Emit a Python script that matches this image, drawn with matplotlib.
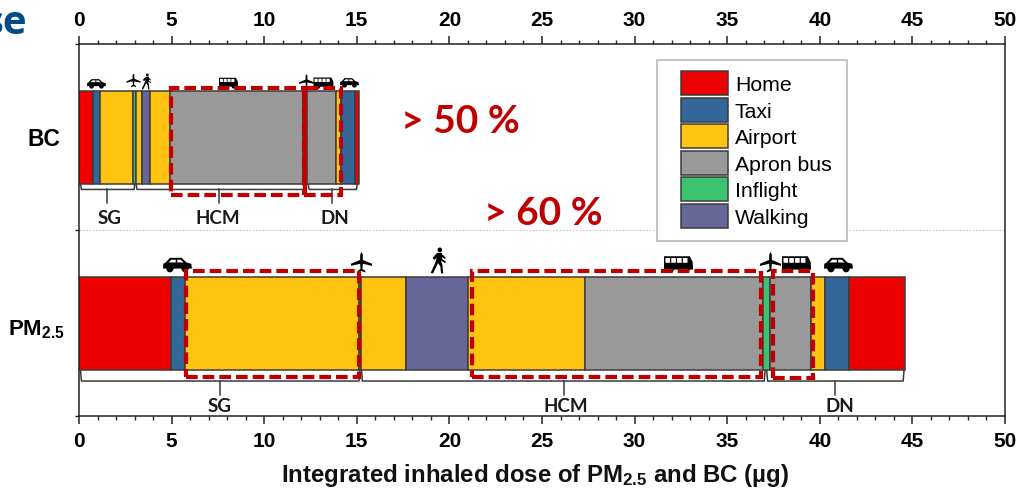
import numpy as np
import matplotlib
matplotlib.use("Agg")
import matplotlib.pyplot as plt
from matplotlib.patches import Rectangle, Patch
from matplotlib.path import Path

W, H = 1019, 489
COL = {"Home": "#EE0000", "Taxi": "#336699", "Airport": "#FFC312",
       "Apron bus": "#999999", "Inflight": "#3CC36F", "Walking": "#666699"}
legend_names = ["Home", "Taxi", "Airport", "Apron bus", "Inflight", "Walking"]

# data
bc_cats = ["Home", "Taxi", "Airport", "Inflight", "Airport", "Walking", "Airport",
           "Apron bus", "Inflight", "Apron bus", "Airport", "Taxi", "Home"]
bc_edges = [0, 0.77, 1.15, 2.91, 3.09, 3.40, 3.81, 4.89, 12.12, 12.30, 13.88, 14.14, 14.89, 15.14]
pm_cats = ["Home", "Taxi", "Airport", "Inflight", "Airport", "Walking", "Airport",
           "Apron bus", "Inflight", "Apron bus", "Airport", "Taxi", "Home"]
pm_edges = [0, 4.95, 5.70, 15.10, 15.23, 17.66, 21.03, 27.34, 36.95, 37.29, 39.52, 40.30, 41.60, 44.58]

bc_brackets = [("SG", 0.08, 3.02, 1.52), ("HCM", 3.08, 12.27, 7.55), ("DN", 12.37, 15.03, 13.67)]
pm_brackets = [("SG", 0.08, 15.17, 7.6), ("HCM", 15.25, 37.05, 26.2), ("DN", 37.13, 44.55, 40.8)]
bc_label_x = [1.67, 7.5, 13.8]
pm_label_x = [7.6, 26.3, 41.1]

boxes = [(4.95, 12.2, 1.19, 1.763), (12.15, 14.14, 1.19, 1.763),
         (5.78, 15.1, 0.21, 0.78), (21.22, 36.81, 0.21, 0.78), (37.46, 39.62, 0.205, 0.78)]

icons = [("car", 0.92, 1.79, 19), ("plane", 2.92, 1.807, 14), ("walker", 3.62, 1.80, 16),
         ("bus", 8.05, 1.796, 19), ("plane", 12.26, 1.80, 15), ("bus", 13.17, 1.796, 20),
         ("car", 14.58, 1.796, 19),
         ("car", 5.29, 0.817, 29), ("plane", 15.23, 0.83, 21), ("walker", 19.39, 0.84, 26),
         ("bus", 32.34, 0.823, 29), ("plane", 37.3, 0.83, 21), ("bus", 38.72, 0.823, 29),
         ("car", 40.98, 0.817, 29)]

LAT = "Liberation Sans"
plt.rcParams["font.family"] = LAT
plt.rcParams["mathtext.fontset"] = "custom"
plt.rcParams["mathtext.rm"] = "Liberation Sans:bold"
plt.rcParams["mathtext.bf"] = "Liberation Sans:bold"
plt.rcParams["mathtext.default"] = "rm"

fig = plt.figure(figsize=(W / 100, H / 100), dpi=100)
ax = fig.add_axes([79 / W, 1 - 417 / H, (1005 - 79) / W, (417 - 45) / H])
ax.set_xlim(0, 50)
ax.set_ylim(0, 2)

ax.axhline(1, color="#c8c8c8", lw=0.8, ls=(0, (1.5, 1.5)), zorder=0)

def draw_bar(y, cats, edges):
    e = np.array(edges)
    ax.barh([y] * len(cats), e[1:] - e[:-1], left=e[:-1], height=0.5,
            color=[COL[c] for c in cats], edgecolor="#3c3c3c", linewidth=1.1, zorder=2)

draw_bar(1.5, bc_cats, bc_edges)
draw_bar(0.5, pm_cats, pm_edges)

def bracket(x0, x1, xs, y_top, drop, stem):
    r = 0.10
    ax.plot([x0, x0 + r * .5, x1 - r * .5, x1],
            [y_top, y_top - drop, y_top - drop, y_top], color="#3a3a3a", lw=1.1, zorder=1)
    ax.plot([xs, xs], [y_top - drop, y_top - drop - stem], color="#3a3a3a", lw=1.1, zorder=1)

for (n, a, b, s), lx in zip(bc_brackets, bc_label_x):
    bracket(a, b, s, 1.25, 0.032, 0.072)
    ax.text(lx, 1.065, n, ha="center", va="center", fontsize=13.5, fontweight="bold",
            family="Lato", color="#1a1a1a", zorder=1)
for (n, a, b, s), lx in zip(pm_brackets, pm_label_x):
    bracket(a, b, s, 0.25, 0.062, 0.075)
    ax.text(lx, 0.058, n, ha="center", va="center", fontsize=13.5, fontweight="bold",
            family="Lato", color="#1a1a1a", zorder=1)

# icon paths
def poly(pts, ccw=True):
    p = np.array(pts + [pts[0]], float)
    area = 0.5 * np.sum(p[:-1, 0] * p[1:, 1] - p[1:, 0] * p[:-1, 1])
    if (area > 0) != ccw:
        p = p[::-1]
    return Path(p, closed=True)

def circ(cx, cy, r, ccw=True):
    t = np.linspace(0, 2 * np.pi, 25)[:-1]
    return poly([(cx + r * np.cos(a), cy + r * np.sin(a)) for a in t], ccw)

def car_path():
    body = poly([(-1, -.28), (-.98, .05), (-.82, .14), (-.52, .46), (.28, .46), (.62, .14),
                 (.95, .05), (1, -.28)])
    w1 = poly([(-.62, .14), (-.42, .33), (-.12, .33), (-.12, .14)], False)
    w2 = poly([(-.02, .14), (-.02, .33), (.22, .33), (.42, .14)], False)
    wh1 = circ(-.52, -.3, .24)
    wh2 = circ(.52, -.3, .24)
    return Path.make_compound_path(body, w1, w2, wh1, wh2)

def bus_path():
    body = poly([(-1, -.42), (-1, .5), (.78, .5), (.98, .1), (1, -.42)])
    wins = [poly([(a, .05), (a, .38), (a + .32, .38), (a + .32, .05)], False)
            for a in (-.9, -.5, -.1, .3)]
    w1 = circ(-.55, -.42, .22)
    w2 = circ(.55, -.42, .22)
    return Path.make_compound_path(body, *wins, w1, w2)

def plane_path():
    return poly([(0, 1), (.12, .78), (.13, .25), (1, -.12), (1, -.32), (.13, -.12), (.09, -.6),
                 (.36, -.8), (.36, -.95), (0, -.82), (-.36, -.95), (-.36, -.8), (-.09, -.6),
                 (-.13, -.12), (-1, -.32), (-1, -.12), (-.13, .25), (-.12, .78)])

def walker_path():
    head = circ(.1, .82, .18)
    body = poly([(-.12, .58), (.24, .6), (.3, .1), (.58, -.1), (.52, -.2), (.18, .0),
                 (.3, -.35), (.36, -1), (.2, -1), (.14, -.45), (-.04, -.2), (-.42, -1),
                 (-.6, -.95), (-.24, -.15), (-.14, .2), (-.3, .05), (-.46, .18), (-.38, .28)])
    arm = poly([(.2, .55), (.56, .22), (.5, .12), (.14, .38)])
    return Path.make_compound_path(head, body, arm)

ICON = {"car": car_path(), "bus": bus_path(), "plane": plane_path(), "walker": walker_path()}
for kind, x, y, size in icons:
    ax.plot([x], [y], marker=ICON[kind], ms=size * 0.72, color="black", mew=0, ls="none",
            clip_on=False, zorder=3)

for x0, x1, y0, y1 in boxes:
    ax.add_patch(Rectangle((x0, y0), x1 - x0, y1 - y0, fill=False, edgecolor="#C00000",
                           lw=3.0, ls=(0, (2.8, 1.2)), zorder=4))

# axes
for s in ax.spines.values():
    s.set_linewidth(1.1)
    s.set_color("#222222")
ax.set_xticks(np.arange(0, 51, 5))
ax.set_xticks(np.arange(0, 51, 1), minor=True)
ax.set_yticks([0, 1, 2])
ax.set_yticklabels([])
ax.tick_params(axis="x", which="major", top=True, bottom=True, labeltop=True, labelbottom=True,
               length=6, width=1.1, pad=5, labelsize=15, color="#222222")
ax.tick_params(axis="x", which="minor", top=True, bottom=True, length=3, width=1.0, color="#222222")
ax.tick_params(axis="y", length=3, width=1, color="#222222")
for t in ax.get_xticklabels():
    t.set_fontweight("bold")

fig.text(60 / W, 1 - 140 / H, "BC", ha="right", va="center", fontsize=16.5, fontweight="bold")
fig.text(65 / W, 1 - 330 / H, "PM$_{2.5}$", ha="right", va="center", fontsize=16, fontweight="bold")
fig.text(535 / W, 1 - 476 / H, "Integrated inhaled dose of PM$_{2.5}$ and BC (µg)", ha="center",
         va="center", fontsize=17.3, fontweight="bold", color="#111111")
fig.text(27 / W, 1 - 23 / H, "se", ha="right", va="center", fontsize=29, fontweight="bold",
         family="Open Sans", color="#004B87")
ax.text((460 - 79) / 18.52, (417 - 122) / 186, "> 50 %", ha="center", va="center", fontsize=28,
        fontweight="bold", family="Lato", color="#C00000", zorder=5)
ax.text((543 - 79) / 18.52, (417 - 214) / 186, "> 60 %", ha="center", va="center", fontsize=28,
        fontweight="bold", family="Lato", color="#C00000", zorder=5)

# legend
fig.add_artist(Rectangle((657 / W, 1 - 242 / H), 190 / W, 181 / H, transform=fig.transFigure,
                         facecolor="white", edgecolor="#c4c4c4", lw=1.4, zorder=5))
handles = [Patch(facecolor=COL[n], edgecolor="#3c3c3c", lw=1.1) for n in legend_names]
leg = fig.legend(handles, legend_names, loc="upper left",
                 bbox_to_anchor=(681 / W, 1 - 72 / H), bbox_transform=fig.transFigure,
                 frameon=False, fontsize=15.3, borderpad=0, borderaxespad=0, handlelength=2.2,
                 handleheight=1.36, labelspacing=0.12, handletextpad=0.33)
leg.set_zorder(6)

fig.savefig("out.png", dpi=100)
